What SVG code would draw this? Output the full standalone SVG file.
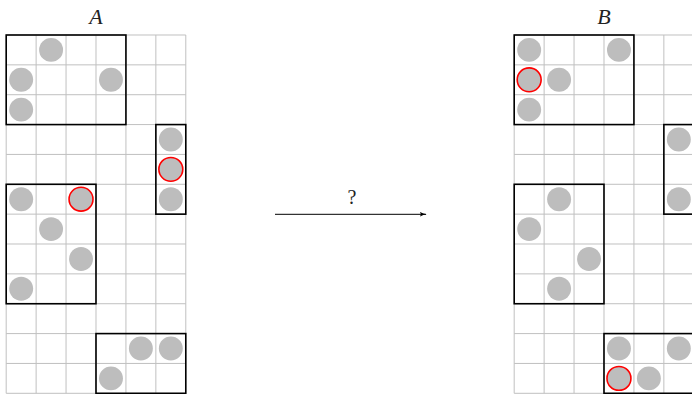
<svg xmlns="http://www.w3.org/2000/svg" width="692" height="394" viewBox="0 0 692 394">
<defs>
<style>
.grid{stroke:#c0c0c0;stroke-width:1;fill:none}
.box{stroke:#000;stroke-width:1.6;fill:none}
.dot{fill:#bdbdbd}
.hl{fill:#bdbdbd;stroke:#f00;stroke-width:1.6}
.lbl{font-family:"Liberation Serif","DejaVu Serif",serif;font-size:22px;font-style:italic;fill:#222;text-anchor:middle}
.q{font-family:"Liberation Serif","DejaVu Serif",serif;font-size:20px;fill:#222;text-anchor:middle}
</style>
<marker id="ah" viewBox="0 0 10 10" refX="9" refY="5" markerWidth="7" markerHeight="7" markerUnits="userSpaceOnUse" orient="auto">
<path d="M0,1.5 Q5,4.5 10,5 Q5,5.5 0,8.5 Q3,5 0,1.5 Z" fill="#000"/>
</marker>
<g id="gridlines">
<path class="grid" d="M0,0V360M30,0V360M60,0V360M90,0V360M120,0V360M150,0V360M180,0V360M0,0H180M0,30H180M0,60H180M0,90H180M0,120H180M0,150H180M0,180H180M0,210H180M0,240H180M0,270H180M0,300H180M0,330H180M0,360H180"/>
</g>
</defs>
<rect width="692" height="394" fill="#fff"/>
<g id="A">
<text class="lbl" x="96" y="24">A</text>
<g transform="translate(6.2,35) scale(0.9977,0.9953)">
<use href="#gridlines"/>
<circle class="dot" cx="45" cy="15" r="12"/>
<circle class="dot" cx="15" cy="45" r="12"/>
<circle class="dot" cx="105" cy="45" r="12"/>
<circle class="dot" cx="15" cy="75" r="12"/>
<circle class="dot" cx="165" cy="105" r="12"/>
<circle class="hl" cx="165" cy="135" r="12"/>
<circle class="dot" cx="15" cy="165" r="12"/>
<circle class="hl" cx="75" cy="165" r="12"/>
<circle class="dot" cx="165" cy="165" r="12"/>
<circle class="dot" cx="45" cy="195" r="12"/>
<circle class="dot" cx="75" cy="225" r="12"/>
<circle class="dot" cx="15" cy="255" r="12"/>
<circle class="dot" cx="135" cy="315" r="12"/>
<circle class="dot" cx="165" cy="315" r="12"/>
<circle class="dot" cx="105" cy="345" r="12"/>
<rect class="box" x="0" y="0" width="120" height="90"/>
<rect class="box" x="150" y="90" width="30" height="90"/>
<rect class="box" x="0" y="150" width="90" height="120"/>
<rect class="box" x="90" y="300" width="90" height="60"/>
</g>
</g>
<g id="B">
<text class="lbl" x="604" y="24">B</text>
<g transform="translate(514.2,35) scale(0.9977,0.9953)">
<use href="#gridlines"/>
<circle class="dot" cx="15" cy="15" r="12"/>
<circle class="dot" cx="105" cy="15" r="12"/>
<circle class="hl" cx="15" cy="45" r="12"/>
<circle class="dot" cx="45" cy="45" r="12"/>
<circle class="dot" cx="15" cy="75" r="12"/>
<circle class="dot" cx="165" cy="105" r="12"/>
<circle class="dot" cx="45" cy="165" r="12"/>
<circle class="dot" cx="165" cy="165" r="12"/>
<circle class="dot" cx="15" cy="195" r="12"/>
<circle class="dot" cx="75" cy="225" r="12"/>
<circle class="dot" cx="45" cy="255" r="12"/>
<circle class="dot" cx="105" cy="315" r="12"/>
<circle class="dot" cx="165" cy="315" r="12"/>
<circle class="hl" cx="105" cy="345" r="12"/>
<circle class="dot" cx="135" cy="345" r="12"/>
<rect class="box" x="0" y="0" width="120" height="90"/>
<rect class="box" x="150" y="90" width="30" height="90"/>
<rect class="box" x="0" y="150" width="90" height="120"/>
<rect class="box" x="90" y="300" width="90" height="60"/>
</g>
</g>
<g id="connectors">
<line x1="275" y1="214.3" x2="426" y2="214.3" stroke="#000" stroke-width="1" marker-end="url(#ah)"/>
<text class="q" x="352" y="204">?</text>
</g>
</svg>
